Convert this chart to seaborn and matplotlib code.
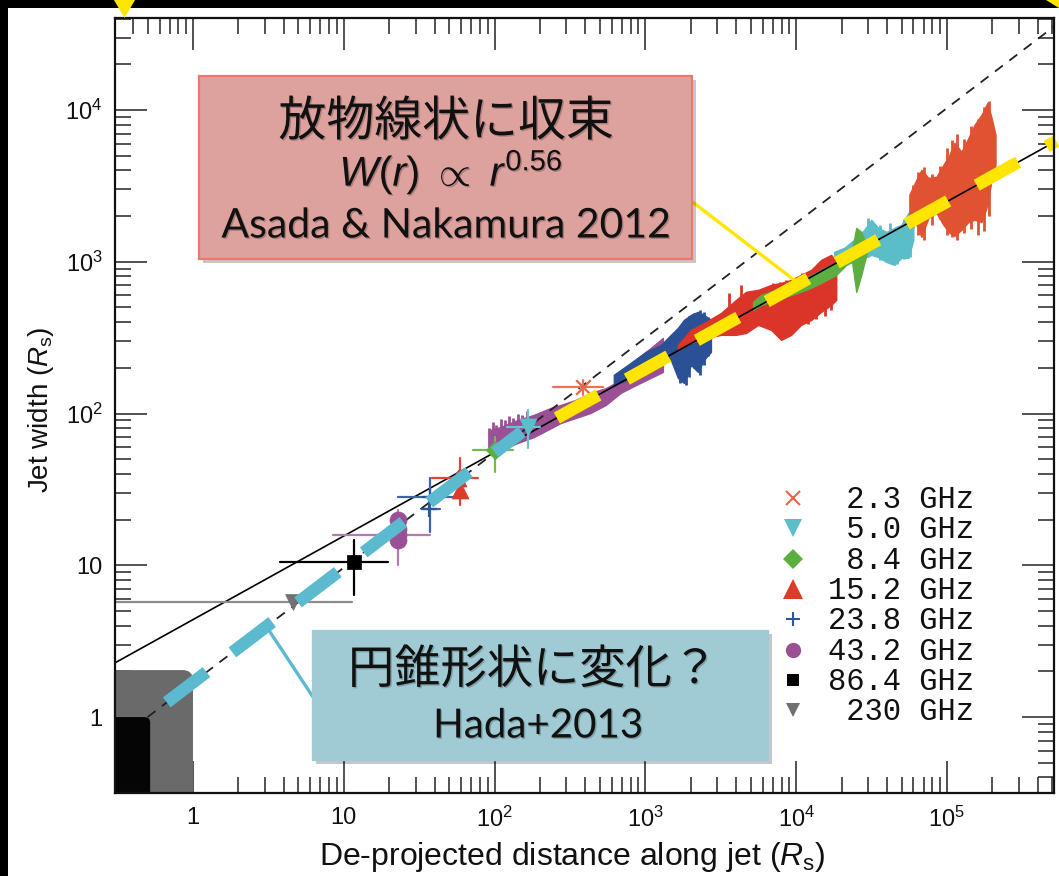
import numpy as np
import pandas as pd
import matplotlib
matplotlib.use("Agg")
import matplotlib.pyplot as plt
import seaborn as sns
from matplotlib.patches import Rectangle, FancyBboxPatch, Polygon
from matplotlib.lines import Line2D
from matplotlib import patheffects as pe
from matplotlib.ticker import LogLocator, FixedLocator, FuncFormatter, NullFormatter

# ---------------------------------------------------------------- data
# power-law fits (end points)
parabolic_r = [0.30, 5.5e5]
parabolic_w = [2.26, 6370]
conical_r = [0.50, 5.5e5]
conical_w = [1.00, 3.74e4]
# highlighted parts of the two fits
conical_hl_r = [0.67, 152]
conical_hl_w = [1.25, 75.8]
parabolic_hl_r = [259, 5.3e5]
parabolic_hl_w = [93.5, 6240]

# black hole regions (lower-left boxes)
horizon_r, horizon_w = 0.52, 1.0
isco_r, isco_w = 1.0, 2.04

# continuous width profiles (r, lower W, upper W)
band43_r = [94, 110, 142, 182, 236, 275, 345, 434, 547, 687, 865, 1088, 1307]
band43_lo = [55.8, 57.5, 64, 70, 80, 86.7, 93.5, 101, 114, 137, 154, 172, 188]
band43_hi = [78, 81.6, 90.7, 98, 109, 114, 123, 137, 147, 167, 226, 271, 315]

band24_r = [618, 765, 1008, 1268, 1476, 1644, 1803, 2006, 2233, 2448, 2723]
band24_lo = [154, 167, 188, 219, 226, 172, 159, 209, 188, 226, 255]
band24_hi = [180, 209, 255, 283, 330, 367, 414, 447, 468, 447, 414]

band15_r = [1644, 2006, 2523, 3175, 3993, 4655, 5594, 6823, 7948, 9265, 10790, 12590, 14660, 17090, 18440]
band15_lo = [263, 292, 315, 330, 330, 340, 384, 356, 306, 330, 384, 414, 468, 520, 561]
band15_hi = [283, 356, 402, 460, 561, 634, 653, 704, 726, 760, 820, 885, 1030, 1111, 998]

band8_r = [5176, 5851, 7365, 9265, 11650, 14660, 18440, 21490, 23500, 25050, 27040, 29190]
band8_lo = [482, 520, 561, 605, 653, 726, 820, 954, 998, 634, 820, 1111]
band8_hi = [544, 605, 653, 704, 783, 885, 998, 1111, 1198, 1672, 1574, 1292]

band5_r = [17870, 20840, 24270, 28300, 31500, 35060, 39630, 44780, 49860, 55480, 59870]
band5_lo = [1094, 998, 1074, 1061, 1111, 1074, 998, 954, 1061, 1061, 1396]
band5_hi = [1162, 1236, 1396, 1623, 1890, 1672, 1574, 1672, 1751, 2100, 2266]

band2_r = [56340, 62710, 67720, 75340, 85170, 94810, 1.04e5, 1.122e5, 1.248e5, 1.39e5, 1.524e5, 1.695e5, 1.858e5, 1.977e5, 2.1e5]
band2_lo = [2037, 1751, 1459, 1945, 2100, 1751, 1551, 1482, 1623, 1832, 1890, 1832, 2372, 3467, 4355]
band2_hi = [2761, 3467, 4035, 3573, 3631, 4355, 5070, 6080, 5304, 6555, 7990, 9295, 11160, 8885, 6860]

# individual streaks on the profiles
spike43_r = [92, 97, 103, 110, 117, 125, 133, 142, 152, 163]
spike43_lo = [58, 60, 62, 64, 66, 68, 70, 72, 74, 77]
spike43_hi = [80, 88, 84, 92, 90, 97, 94, 100, 98, 104]
spike24_r = [1700, 1850, 1950, 2100, 2300, 2450, 2600]
spike24_lo = [160, 155, 175, 200, 180, 210, 240]
spike24_hi = [380, 420, 440, 460, 480, 470, 430]
spike15_r = [3600, 4300, 7000, 7800, 8600, 9800, 11000, 12000, 13500, 15500, 17000]
spike15_lo = [330, 335, 360, 350, 370, 380, 400, 390, 420, 440, 480]
spike15_hi = [620, 700, 720, 740, 760, 780, 840, 860, 940, 1050, 1100]
spike5_r = [30000, 36000, 42000, 47000, 52000, 57000]
spike5_lo = [1080, 1030, 980, 960, 1040, 1080]
spike5_hi = [1950, 1750, 1800, 1700, 1900, 2150]
spike2_r = [60000, 64000, 70000, 80000, 90000, 1.0e5, 1.08e5, 1.16e5, 1.3e5, 1.45e5, 1.6e5, 1.75e5, 1.9e5]
spike2_lo = [1700, 1500, 1400, 1750, 1900, 1500, 1450, 1400, 1550, 1650, 1500, 1600, 2000]
spike2_hi = [3200, 3900, 4200, 3800, 4300, 5600, 6300, 6900, 6400, 7800, 8700, 10500, 11500]

# individual measurements with error bars
nan = np.nan
point_band = ['2.3', '5.0', '8.4', '15.2', '15.2', '23.8', '23.8', '43.2', '43.2', '43.2', '43.2', '86.4', '230']
point_r = [386, 166, 100.6, 57.2, 59.4, 37.3, 37.0, 22.9, 22.9, 22.9, 22.9, 11.7, 4.6]
point_w = [150, 81.5, 57.5, 37.6, 31.5, 28.2, 23.5, 15.8, 14.6, 17.4, 19.8, 10.5, 5.7]
point_rlo = [244, 121, 71.9, 38.5, nan, 22.9, 33.5, 8.48, nan, nan, nan, 3.78, 0.1]
point_rhi = [523, 200, 132, 77.6, nan, 53.0, 43.4, 37.3, nan, nan, nan, 19.6, 11.3]
point_wlo = [132, 59.3, 41.2, nan, 24.9, 16.6, nan, 10.0, nan, nan, nan, 6.37, nan]
point_whi = [166, 105, 70.0, nan, 50.9, 37.6, nan, 23.1, nan, nan, nan, 14.7, nan]

legend_bands = ['2.3', '5.0', '8.4', '15.2', '23.8', '43.2', '86.4', '230']
legend_labels = [' 2.3 GHz', ' 5.0 GHz', ' 8.4 GHz', '15.2 GHz', '23.8 GHz', '43.2 GHz', '86.4 GHz', ' 230 GHz']

x_tick_values = [1, 10, 1e2, 1e3, 1e4, 1e5]
y_tick_values = [1, 10, 1e2, 1e3, 1e4]

box1_lines = ['放物線状に収束', r'$W(r)\ \propto\ r^{0.56}$', 'Asada & Nakamura 2012']
box2_lines = ['円錐形状に変化？', 'Hada+2013']

# ---------------------------------------------------------------- style
sns.set_theme(style="ticks")
plt.rcParams['font.family'] = ['Liberation Sans', 'Noto Sans CJK JP', 'DejaVu Sans']
plt.rcParams['mathtext.fontset'] = 'custom'
plt.rcParams['mathtext.rm'] = 'Liberation Sans'
plt.rcParams['mathtext.it'] = 'Liberation Sans:italic'

COL = {'2.3': '#E8644B', '5.0': '#5BBFC9', '8.4': '#5DAE40', '15.2': '#DD3A2A',
       '23.8': '#2E5598', '43.2': '#9B5096', '86.4': '#000000', '230': '#707070'}
BANDCOL = {'2.3': '#E05232', '5.0': '#5ABDC8', '8.4': '#5DAE40', '15.2': '#DA3528',
           '23.8': '#2B5096', '43.2': '#9B5096'}
ERRCOL = {'2.3': '#EE7353', '5.0': '#68C5CE', '8.4': '#6CBF4F', '15.2': '#E0433A',
          '23.8': '#3D63AD', '43.2': '#B47AB3', '86.4': '#000000', '230': '#8C8C8C'}
MARK = {'2.3': 'x', '5.0': 'v', '8.4': 'D', '15.2': '^', '23.8': '+', '43.2': 'o', '86.4': 's', '230': 'v'}
MSIZE = {'2.3': 110, '5.0': 150, '8.4': 90, '15.2': 150, '23.8': 120, '43.2': 150, '86.4': 100, '230': 130}
LEGMS = {'2.3': 10, '5.0': 13, '8.4': 10, '15.2': 14, '23.8': 10, '43.2': 11, '86.4': 9, '230': 10}

W_PX, H_PX = 1059, 876
AX_L, AX_R, AX_T, AX_B = 115, 1054, 18, 793
XMIN, XMAX = 0.304, 5.13e5
YMIN, YMAX = 0.316, 4.04e4


def fx(px):
    return px / W_PX


def fy(py):
    return 1 - py / H_PX


fig = plt.figure(figsize=(W_PX / 100, H_PX / 100), dpi=100)
fig.patch.set_facecolor('white')
ax = fig.add_axes([fx(AX_L), fy(AX_B), (AX_R - AX_L) / W_PX, (AX_B - AX_T) / H_PX])
ax.set_facecolor('white')
ax.set_xscale('log')
ax.set_yscale('log')
ax.set_xlim(XMIN, XMAX)
ax.set_ylim(YMIN, YMAX)


def frac_x(r):
    return (np.log10(r) - np.log10(XMIN)) / (np.log10(XMAX) - np.log10(XMIN))


def frac_y(w):
    return (np.log10(w) - np.log10(YMIN)) / (np.log10(YMAX) - np.log10(YMIN))


aspect = (AX_R - AX_L) / (AX_B - AX_T)
gray_box = FancyBboxPatch((-0.05, -0.05), frac_x(isco_r) + 0.05, frac_y(isco_w) + 0.05,
                          boxstyle='round,pad=0,rounding_size=0.011', mutation_aspect=aspect,
                          transform=ax.transAxes, fc='#6A6A6A', ec='none', zorder=1)
ax.add_patch(gray_box)
black_box = FancyBboxPatch((-0.05, -0.05), frac_x(horizon_r) + 0.05, frac_y(horizon_w) + 0.05,
                           boxstyle='round,pad=0,rounding_size=0.006', mutation_aspect=aspect,
                           transform=ax.transAxes, fc='#050505', ec='none', zorder=1.1)
ax.add_patch(black_box)

# fits
sns.lineplot(x=parabolic_r, y=parabolic_w, color='black', lw=1.2, zorder=4, ax=ax)
ax.plot(conical_r, conical_w, color='#222222', lw=1.3, linestyle=(0, (5.5, 4.5)), zorder=4)

# continuous profiles
bands = [('43.2', band43_r, band43_lo, band43_hi), ('23.8', band24_r, band24_lo, band24_hi),
         ('15.2', band15_r, band15_lo, band15_hi), ('5.0', band5_r, band5_lo, band5_hi),
         ('8.4', band8_r, band8_lo, band8_hi), ('2.3', band2_r, band2_lo, band2_hi)]
spikes = {'43.2': (spike43_r, spike43_lo, spike43_hi), '23.8': (spike24_r, spike24_lo, spike24_hi),
          '15.2': (spike15_r, spike15_lo, spike15_hi), '5.0': (spike5_r, spike5_lo, spike5_hi),
          '2.3': (spike2_r, spike2_lo, spike2_hi)}
for i, (b, r, lo, hi) in enumerate(bands):
    ax.fill_between(r, lo, hi, color=BANDCOL[b], lw=1.0, ec=BANDCOL[b], zorder=3 + i * 0.01)
    if b in spikes:
        sr, slo, shi = spikes[b]
        ax.vlines(sr, slo, shi, color=BANDCOL[b], lw=2.0, zorder=3 + i * 0.01)

# points with error bars
pts = pd.DataFrame({'band': point_band, 'r': point_r, 'w': point_w, 'rlo': point_rlo,
                    'rhi': point_rhi, 'wlo': point_wlo, 'whi': point_whi})
for _, p in pts.iterrows():
    if not np.isnan(p.rlo):
        ax.plot([p.rlo, p.rhi], [p.w, p.w], color=ERRCOL[p.band], lw=1.6, zorder=4.2)
    if not np.isnan(p.wlo):
        ax.plot([p.r, p.r], [p.wlo, p.whi], color=ERRCOL[p.band], lw=1.6, zorder=4.2)
for b in legend_bands:
    sel = pts[pts.band == b]
    m = MARK[b]
    if m in ('x', '+'):
        sns.scatterplot(data=sel, x='r', y='w', marker=m, s=MSIZE[b], color=COL[b],
                        linewidth=1.6, ax=ax, zorder=5, legend=False)
    else:
        sns.scatterplot(data=sel, x='r', y='w', marker=m, s=MSIZE[b], color=COL[b],
                        edgecolor=COL[b], linewidth=0.5, ax=ax, zorder=5, legend=False)

# highlighted dashes
ax.plot(conical_hl_r, conical_hl_w, color='#5BB9D0', lw=9, linestyle=(0, (4.0, 2.6)),
        dash_capstyle='butt', solid_capstyle='butt', zorder=6, clip_on=False)
ax.plot(parabolic_hl_r, parabolic_hl_w, color='#FFE500', lw=9, linestyle=(0, (3.8, 2.6)),
        dash_capstyle='butt', solid_capstyle='butt', zorder=6, clip_on=False)

# axes styling
def tick_fmt(v, pos):
    e = int(round(np.log10(v)))
    if e == 0:
        return '1'
    if e == 1:
        return '10'
    return r'$\mathdefault{10^{%d}}$' % e


for axis, vals in ((ax.xaxis, x_tick_values), (ax.yaxis, y_tick_values)):
    axis.set_major_locator(FixedLocator(vals))
    axis.set_minor_locator(LogLocator(base=10, subs=np.arange(2, 10), numticks=20))
    axis.set_major_formatter(FuncFormatter(tick_fmt))
    axis.set_minor_formatter(NullFormatter())
ax.tick_params(which='major', direction='in', length=23, width=1.1, color='#222222',
               top=True, right=True, labelsize=17, labelcolor='#111111')
ax.tick_params(which='minor', direction='in', length=11.5, width=1.1, color='#222222',
               top=True, right=True)
ax.tick_params(axis='x', which='major', pad=10)
ax.tick_params(axis='y', which='major', pad=9)
for s in ax.spines.values():
    s.set_linewidth(1.6)
    s.set_color('#111111')
    s.set_zorder(7)

ax.set_xlabel(r'De-projected distance along jet ($\mathit{R}_{\mathrm{s}}$)', fontsize=23, color='#111111')
ax.set_ylabel(r'Jet width ($\mathit{R}_{\mathrm{s}}$)', fontsize=20, color='#111111')
ax.xaxis.set_label_coords((572 - AX_L) / (AX_R - AX_L), (AX_B - 840) / (AX_B - AX_T))
ax.yaxis.set_label_coords((56 - AX_L) / (AX_R - AX_L), (AX_B - 410) / (AX_B - AX_T))

# legend (drawn by hand)
for i, (b, lbl) in enumerate(zip(legend_bands, legend_labels)):
    yc = 498 + i * 30.3
    m = MARK[b]
    fig.add_artist(Line2D([fx(793)], [fy(yc)], marker=m, linestyle='none', color=COL[b],
                          markersize=LEGMS[b], markeredgewidth=1.5 if m in ('x', '+') else 0,
                          transform=fig.transFigure, zorder=8))
    fig.text(fx(828), fy(yc + 10), lbl, family='Liberation Mono', fontsize=22,
             color='#111111', va='baseline', ha='left', zorder=8)

# annotation boxes
shadow = [pe.withSimplePatchShadow(offset=(3, -3), shadow_rgbFace='black', alpha=0.22)]
txt_fx = [pe.SimplePatchShadow(offset=(1.0, -1.0), shadow_rgbFace='black', alpha=0.22), pe.Normal()]

box1 = FancyBboxPatch((fx(199), fy(259)), (692 - 199) / W_PX, (259 - 76) / H_PX,
                      boxstyle='square,pad=0', transform=fig.transFigure,
                      fc='#DDA19E', ec='#EC786E', lw=1.6, zorder=9, path_effects=shadow)
fig.add_artist(box1)
fig.text(fx(446), fy(122), box1_lines[0], family=['Noto Sans CJK JP'], fontsize=34.5,
         ha='center', va='center', color='#111111', zorder=10, path_effects=txt_fx)
fig.text(fx(451), fy(172), box1_lines[1], fontsize=30, ha='center', va='center',
         color='#111111', zorder=10, path_effects=txt_fx)
fig.text(fx(446), fy(226), box1_lines[2], family=['Lato', 'DejaVu Sans'], fontsize=29.5,
         ha='center', va='center', color='#111111', zorder=10, path_effects=txt_fx)

box2 = FancyBboxPatch((fx(312), fy(760)), (768 - 312) / W_PX, (760 - 630) / H_PX,
                      boxstyle='square,pad=0', transform=fig.transFigure,
                      fc='#A0CBD4', ec='#A0CBD4', lw=1.0, zorder=9, path_effects=shadow)
fig.add_artist(box2)
fig.text(fx(533), fy(670), box2_lines[0], family=['Noto Sans CJK JP'], fontsize=33.3,
         ha='center', va='center', color='#111111', zorder=10, path_effects=txt_fx)
fig.text(fx(538), fy(726), box2_lines[1], family=['Lato', 'DejaVu Sans'], fontsize=29,
         ha='center', va='center', color='#111111', zorder=10, path_effects=txt_fx)

# leader lines
fig.add_artist(Line2D([fx(690), fx(798)], [fy(200), fy(283)], color='#FFE500', lw=2.4,
                      transform=fig.transFigure, zorder=8.5))
fig.add_artist(Line2D([fx(270), fx(313)], [fy(632), fy(697)], color='#5BB9D0', lw=2.4,
                      transform=fig.transFigure, zorder=8.5))

# slide frame pieces
fig.add_artist(Rectangle((0, fy(8)), 1, 8 / H_PX, transform=fig.transFigure, fc='black', ec='none', zorder=11))
fig.add_artist(Rectangle((0, 0), fx(8), 1, transform=fig.transFigure, fc='black', ec='none', zorder=11))
fig.add_artist(Polygon([(fx(114), fy(0)), (fx(135), fy(0)), (fx(124.5), fy(18))], closed=True,
                       transform=fig.transFigure, fc='#FFE500', ec='none', zorder=12))
fig.add_artist(Polygon([(fx(1046), fy(0)), (fx(1059), fy(0)), (fx(1059), fy(8))], closed=True,
                       transform=fig.transFigure, fc='#FFE500', ec='none', zorder=12))

fig.savefig('out.png', dpi=100)
